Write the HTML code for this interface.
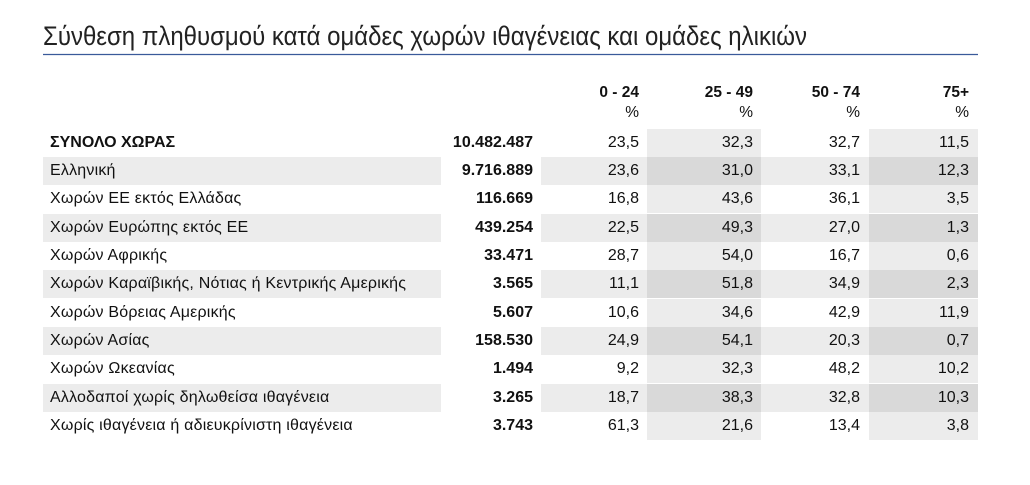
<!DOCTYPE html>
<html><head><meta charset="utf-8"><style>
body{margin:0;width:1030px;height:485px;background:#fff;font-family:"Liberation Sans",Arial,sans-serif;position:relative;overflow:hidden;color:#111}
.b{position:absolute;height:28px}
.t{position:absolute;font-size:16px;line-height:28px;white-space:nowrap}
.r{text-align:right}
.h{position:absolute;font-size:15.5px;font-weight:bold;text-align:right}
</style></head><body>
<svg width="1030" height="70" style="position:absolute;left:0;top:0">
<text x="43" y="45" font-family="Liberation Sans, DejaVu Sans, sans-serif" font-size="27" fill="#222" textLength="764" lengthAdjust="spacingAndGlyphs">Σύνθεση πληθυσμού κατά ομάδες χωρών ιθαγένειας και ομάδες ηλικιών</text>
<line x1="43" y1="54.5" x2="978" y2="54.5" stroke="#3a5a9a" stroke-width="1.3"/>
</svg>
<div class="h" style="left:560px;width:79px;top:84px">0 - 24</div>
<div class="h" style="left:660px;width:93px;top:84px">25 - 49</div>
<div class="h" style="left:770px;width:90px;top:84px">50 - 74</div>
<div class="h" style="left:880px;width:89px;top:84px">75+</div>
<div class="h" style="left:560px;width:79px;top:104px;font-weight:normal">%</div>
<div class="h" style="left:660px;width:93px;top:104px;font-weight:normal">%</div>
<div class="h" style="left:770px;width:90px;top:104px;font-weight:normal">%</div>
<div class="h" style="left:880px;width:89px;top:104px;font-weight:normal">%</div>
<div id="rows"></div>
<script>
var d=[["ΣΥΝΟΛΟ ΧΩΡΑΣ","10.482.487","23,5","32,3","32,7","11,5"],
["Ελληνική","9.716.889","23,6","31,0","33,1","12,3"],
["Χωρών ΕΕ εκτός Ελλάδας","116.669","16,8","43,6","36,1","3,5"],
["Χωρών Ευρώπης εκτός ΕΕ","439.254","22,5","49,3","27,0","1,3"],
["Χωρών Αφρικής","33.471","28,7","54,0","16,7","0,6"],
["Χωρών Καραϊβικής, Νότιας ή Κεντρικής Αμερικής","3.565","11,1","51,8","34,9","2,3"],
["Χωρών Βόρειας Αμερικής","5.607","10,6","34,6","42,9","11,9"],
["Χωρών Ασίας","158.530","24,9","54,1","20,3","0,7"],
["Χωρών Ωκεανίας","1.494","9,2","32,3","48,2","10,2"],
["Αλλοδαποί χωρίς δηλωθείσα ιθαγένεια","3.265","18,7","38,3","32,8","10,3"],
["Χωρίς ιθαγένεια ή αδιευκρίνιστη ιθαγένεια","3.743","61,3","21,6","13,4","3,8"]];
var h="";
for(var i=0;i<d.length;i++){var y=(128.5+28.35*i).toFixed(1);var odd=i%2==1;
var L=odd?"#ececec":"#fff",D=odd?"#d9d9d9":"#ececec";
h+='<div class="b" style="top:'+y+'px;left:43px;width:398px;background:'+L+'"></div>';
h+='<div class="b" style="top:'+y+'px;left:541px;width:106px;background:'+L+'"></div>';
h+='<div class="b" style="top:'+y+'px;left:647px;width:114px;background:'+D+'"></div>';
h+='<div class="b" style="top:'+y+'px;left:761px;width:108px;background:'+L+'"></div>';
h+='<div class="b" style="top:'+y+'px;left:869px;width:109px;background:'+D+'"></div>';
h+='<div class="t" style="top:'+y+'px;left:50px;'+(i==0?'font-weight:bold':'letter-spacing:0.2px')+'">'+d[i][0]+'</div>';
h+='<div class="t r" style="top:'+y+'px;left:413px;width:120px;font-weight:bold">'+d[i][1]+'</div>';
var R=[639,753,860,969];
for(var k=0;k<4;k++)h+='<div class="t r" style="top:'+y+'px;left:'+(R[k]-80)+'px;width:80px">'+d[i][k+2]+'</div>';}
document.getElementById("rows").innerHTML=h;
</script>
</body></html>
